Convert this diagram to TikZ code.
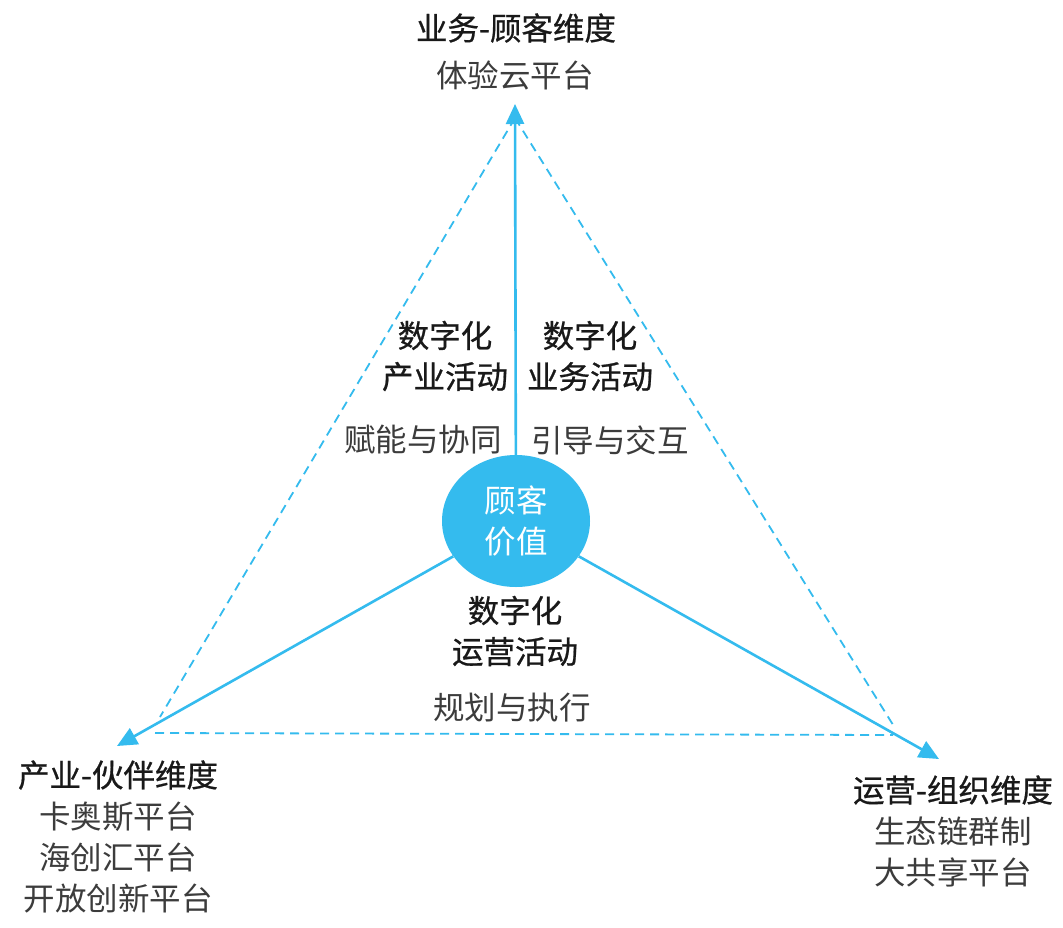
\documentclass[tikz,border=0pt]{standalone}
\usepackage{fontspec}
\setmainfont{Noto Sans CJK SC}
\newfontfamily\hdfont[FakeBold=0.7]{Noto Sans CJK SC}
\usetikzlibrary{arrows.meta,shapes.geometric}
\definecolor{cy}{RGB}{52,187,238}
\definecolor{ink}{RGB}{25,25,25}
\definecolor{soft}{RGB}{60,60,60}
\begin{document}
\begin{tikzpicture}[x=1pt,y=-1pt,
  txt/.style={font=\fontsize{31.5}{41}\selectfont, text=soft, align=center, inner sep=0pt},
  hd/.style={txt, text=ink, font=\hdfont\fontsize{31.5}{41}\selectfont},
  arr/.style={draw=cy, line width=2.6pt, -{Triangle[length=20pt,width=18pt]}},
  dsh/.style={draw=cy, line width=1.8pt, dash pattern=on 9pt off 6pt}]
\useasboundingbox[fill=white] (0,0) rectangle (1063,927);
% dashed triangle
\coordinate (dT) at (515,118);
\coordinate (dLa) at (160,717);
\coordinate (dLb) at (155,733);
\coordinate (dRb) at (893,735);
\coordinate (dRa) at (895,728);
\draw[dsh] (dT) -- (dLa);
\draw[dsh] (dT) -- (dRa);
\draw[dsh] (dLb) -- (dRb);
% centre
\node[ellipse, fill=cy, minimum width=148pt, minimum height=132pt, inner sep=0pt,
      text=white, align=center, font=\fontsize{31.5}{41}\selectfont] (cv) at (516,521) {顾客\\价值};
% arrows
\coordinate (tT) at (515,104);
\coordinate (tL) at (117,746);
\coordinate (tR) at (939,759);
\draw[arr] (cv) -- (tT);
\draw[arr] (cv) -- (tL);
\draw[arr] (cv) -- (tR);
% top labels
\node[hd] (h1) at (516,28) {业务-顾客维度};
\node[txt] (s1) at (515,75) {体验云平台};
% left labels
\node[hd] (h2) at (118,775) {产业-伙伴维度};
\node[txt] (s2) at (118,858) {卡奥斯平台\\海创汇平台\\开放创新平台};
% right labels
\node[hd] (h3) at (953,790) {运营-组织维度};
\node[txt] (s3) at (953,852) {生态链群制\\大共享平台};
% inner labels
\node[hd] (a1) at (445,356) {数字化\\产业活动};
\node[hd] (a2) at (590,356) {数字化\\业务活动};
\node[txt] (b1) at (423,440) {赋能与协同};
\node[txt] (b2) at (610,440) {引导与交互};
\node[hd] (a3) at (515,631) {数字化\\运营活动};
\node[txt] (b3) at (512,708) {规划与执行};
\end{tikzpicture}
\end{document}
